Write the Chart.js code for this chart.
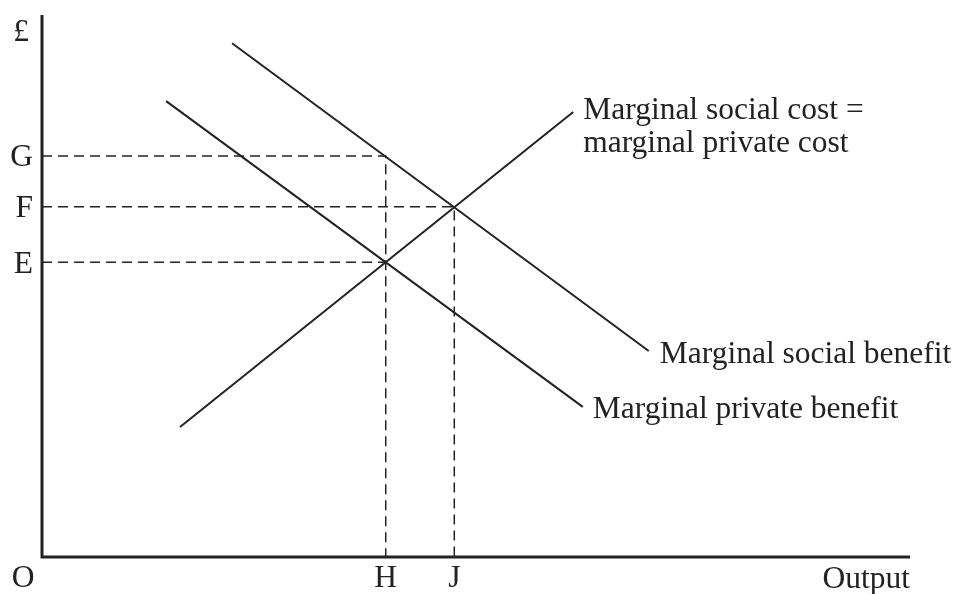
<!DOCTYPE html>
<html>
<head>
<meta charset="utf-8">
<script src="https://cdn.jsdelivr.net/npm/chart.js@4/dist/chart.umd.min.js"></script>
<style>
  html, body { margin: 0; padding: 0; background: #fff; }
  #wrap { width: 960px; height: 594px; position: relative; }
</style>
</head>
<body>
<div id="wrap"><canvas id="c"></canvas></div>
<script>
// ---- Data ----
const priceLabels = ['G', 'F', 'E'];
const priceLevels = [74.0, 64.6, 54.4];
const outputLabels = ['H', 'J'];
const outputLevels = [39.6, 47.5];

const mscX = [15.9, 61.2];
const mscY = [24.0, 82.1];
const msbX = [21.9, 69.9];
const msbY = [94.8, 38.0];
const mpbX = [14.3, 62.3];
const mpbY = [84.1, 27.7];

const curveLabels = [
  ['Marginal social cost =', 'marginal private cost'],
  ['Marginal social benefit'],
  ['Marginal private benefit']
];
const axisLabels = { y: '£', origin: 'O', x: 'Output' };

// ---- Build datasets ----
const ink = '#222';
const pts = (xs, ys) => xs.map((x, i) => ({ x: x, y: ys[i] }));
const [G, F, E] = priceLevels;
const [H, J] = outputLevels;

const solid = (data) => ({
  data, showLine: true, borderColor: ink, borderWidth: 2,
  pointRadius: 0, clip: false, tension: 0
});
const dashed = (data) => ({
  data, showLine: true, borderColor: ink, borderWidth: 1.5,
  borderDash: [10, 6], pointRadius: 0, clip: false, tension: 0
});

const datasets = [
  dashed([{ x: 0, y: G }, { x: H, y: G }, { x: H, y: 0 }]),
  dashed([{ x: 0, y: F }, { x: J, y: F }, { x: J, y: 0 }]),
  dashed([{ x: 0, y: E }, { x: H, y: E }]),
  solid(pts(mscX, mscY)),
  solid(pts(msbX, msbY)),
  solid(pts(mpbX, mpbY)),
  { data: [{ x: 0, y: 100 }, { x: 0, y: 0 }, { x: 100, y: 0 }], showLine: true,
    borderColor: ink, borderWidth: 3, borderJoinStyle: 'miter', borderCapStyle: 'butt',
    pointRadius: 0, clip: false, tension: 0 }
];

const FONT = '31.5px "Liberation Serif", "Times New Roman", serif';

const textPlugin = {
  id: 'texts',
  afterDatasetsDraw(chart) {
    const ctx = chart.ctx;
    const xs = chart.scales.x, ys = chart.scales.y;
    ctx.save();
    ctx.fillStyle = ink;
    ctx.font = FONT;
    ctx.textBaseline = 'alphabetic';
    const left = xs.getPixelForValue(0);
    const bottom = ys.getPixelForValue(0);
    const top = ys.getPixelForValue(100);

    // price levels
    ctx.textAlign = 'right';
    priceLabels.forEach((l, i) => {
      ctx.fillText(l, left - 9, ys.getPixelForValue(priceLevels[i]) + 10.5);
    });
    // £
    ctx.textAlign = 'center';
    ctx.fillText(axisLabels.y, left - 21, top + 26);
    // origin
    ctx.fillText(axisLabels.origin, left - 19, bottom + 30);
    // output levels
    outputLabels.forEach((l, i) => {
      ctx.fillText(l, xs.getPixelForValue(outputLevels[i]), bottom + 30);
    });
    // Output
    ctx.textAlign = 'right';
    ctx.fillText(axisLabels.x, xs.getPixelForValue(100), bottom + 31);

    // curve labels
    ctx.textAlign = 'left';
    const ends = [
      [mscX[1], mscY[1], 10, 7],
      [msbX[1], msbY[1], 11, 12],
      [mpbX[1], mpbY[1], 10, 11]
    ];
    curveLabels.forEach((lines, i) => {
      const [vx, vy, dx, dy] = ends[i];
      const px = xs.getPixelForValue(vx) + dx;
      const py = ys.getPixelForValue(vy) + dy;
      lines.forEach((t, k) => ctx.fillText(t, px, py + k * 32.5));
    });
    ctx.restore();
  }
};

new Chart(document.getElementById('c'), {
  type: 'scatter',
  data: { datasets },
  options: {
    responsive: true,
    maintainAspectRatio: false,
    animation: false,
    events: [],
    layout: { padding: { left: 42, right: 50, top: 15, bottom: 37 } },
    plugins: { legend: { display: false }, tooltip: { enabled: false } },
    scales: {
      x: { type: 'linear', min: 0, max: 100, display: false },
      y: { type: 'linear', min: 0, max: 100, display: false }
    }
  },
  plugins: [textPlugin]
});
</script>
</body>
</html>
